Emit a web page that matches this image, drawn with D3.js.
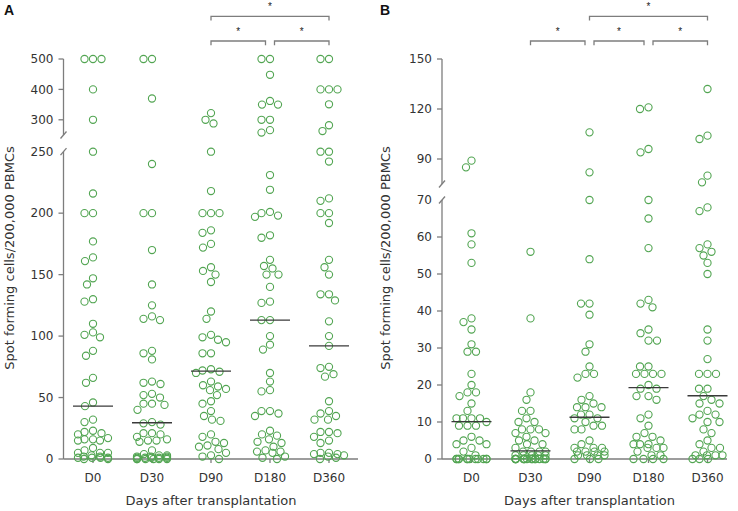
<!DOCTYPE html>
<html>
<head>
<meta charset="utf-8">
<script src="https://cdn.jsdelivr.net/npm/d3@7"></script>
<style>
  body { margin: 0; background: #fff; }
  svg { display: block; }
  text { font-family: "DejaVu Sans", sans-serif; }
</style>
</head>
<body>
<div id="chart"></div>
<script>
// Spot forming cells per 200,000 PBMCs
const days = ['D0', 'D30', 'D90', 'D180', 'D360'];

// panel A
const aD0 = [500, 500, 500, 400, 300, 250, 216, 200, 200, 177, 164, 161, 147, 142, 130, 128, 110, 103, 101, 99,
  88, 84, 66, 62, 46, 43, 32, 30, 23, 22, 21, 20, 17, 16, 16, 15, 15, 9, 7, 5, 5, 5, 3, 2, 2, 1, 1, 1, 1, 0, 0];
const aD30 = [500, 500, 370, 240, 200, 200, 170, 142, 125, 116, 114, 113, 88, 86, 81, 63, 62, 61, 53, 52,
  50, 45, 45, 44, 40, 30, 29, 28, 21, 21, 20, 18, 16, 15, 15, 14, 7, 4, 3, 3, 2, 2, 2, 1, 1, 1, 1, 1, 0, 0, 0, 0, 0, 0];
const aD90 = [322, 300, 288, 250, 218, 200, 200, 200, 186, 184, 175, 172, 156, 153, 150, 144, 120, 114, 101, 99,
  97, 95, 86, 86, 73, 72, 71, 70, 63, 60, 59, 57, 56, 52, 47, 45, 39, 35, 32, 31, 20, 18, 14, 13, 11, 10, 8, 5, 3, 2, 0];
const aD180 = [500, 500, 448, 362, 350, 350, 300, 300, 266, 258, 231, 219, 201, 200, 198, 197, 182, 180, 162, 157,
  155, 150, 150, 140, 128, 127, 113, 113, 100, 93, 89, 70, 63, 56, 55, 39, 39, 37, 35, 23, 20, 19, 16, 14, 13, 10, 7, 6, 6, 5, 2, 1, 0];
const aD360 = [500, 500, 400, 400, 400, 351, 282, 263, 250, 250, 242, 212, 210, 200, 200, 192, 162, 156, 150, 134,
  134, 129, 112, 100, 92, 75, 74, 69, 67, 47, 39, 37, 35, 32, 32, 22, 22, 21, 18, 15, 13, 5, 5, 4, 4, 3, 2, 1, 0];
const aMedians = [43, 29.5, 71.5, 113, 92];

// panel B
const bD0 = [89, 85, 61, 58, 53, 38, 37, 35, 31, 29, 29, 23, 20, 18, 18, 17, 15, 13, 11, 11,
  11, 11, 10, 9, 9, 9, 6, 5, 5, 4, 4, 3, 2, 1, 0, 0, 0, 0, 0, 0, 0, 0, 0, 0, 0, 0];
const bD30 = [56, 38, 18, 16, 13, 13, 11, 10, 10, 8, 8, 8, 7, 7, 6, 5, 5, 4, 4, 3,
  2, 2, 2, 2, 1, 1, 1, 1, 1, 0, 0, 0, 0, 0, 0, 0, 0, 0, 0, 0, 0, 0, 0, 0, 0];
const bD90 = [106, 82, 70, 54, 42, 42, 39, 31, 29, 25, 23, 23, 22, 17, 16, 15, 14, 14, 14, 12,
  12, 11, 11, 10, 9, 9, 8, 8, 5, 4, 3, 3, 3, 2, 2, 2, 2, 1, 1, 1, 1, 0, 0, 0];
const bD180 = [121, 120, 96, 94, 70, 65, 57, 43, 42, 41, 35, 34, 32, 32, 25, 25, 23, 23, 23, 23,
  20, 19, 19, 17, 17, 16, 12, 11, 9, 7, 6, 6, 5, 4, 4, 4, 3, 3, 3, 2, 1, 1, 0, 0, 0, 0];
const bD360 = [132, 104, 102, 80, 76, 68, 67, 58, 57, 56, 55, 53, 50, 35, 32, 27, 23, 23, 23, 19,
  19, 17, 16, 15, 15, 13, 12, 12, 11, 10, 10, 8, 7, 5, 4, 3, 3, 2, 1, 1, 1, 1, 0, 0, 0];
const bMedians = [10.1, 2.2, 11.3, 19.3, 17.1];

// broken y axes: ticks below and above the break
const aLowerTicks = [0, 50, 100, 150, 200, 250];
const aUpperTicks = [300, 400, 500];
const bLowerTicks = [0, 10, 20, 30, 40, 50, 60, 70];
const bUpperTicks = [90, 120, 150];

// significance brackets: [from, to, level]
const aBrackets = [['D90', 'D360', 0], ['D90', 'D180', 1], ['D180', 'D360', 1]];
const bBrackets = [['D90', 'D360', 0], ['D30', 'D90', 1], ['D90', 'D180', 1], ['D180', 'D360', 1]];

const width = 738, height = 511;
const plotTop = 59, plotBottom = 459;
const green = '#52a552', axisGray = '#7d7d7d', inkGray = '#333';

const svg = d3.select('#chart').append('svg')
  .attr('width', width)
  .attr('height', height);

const panels = [
  {
    letter: 'A', lx: 4, axisX: 63.5, xEnd: 358, titleX: 14,
    series: [aD0, aD30, aD90, aD180, aD360], medians: aMedians,
    lower: [0, 250], upper: [250, 500], lowerTop: 151.7, upperBottom: 135,
    lowerTicks: aLowerTicks, upperTicks: aUpperTicks, brackets: aBrackets
  },
  {
    letter: 'B', lx: 380, axisX: 442, xEnd: 727, titleX: 390,
    series: [bD0, bD30, bD90, bD180, bD360], medians: bMedians,
    lower: [0, 70], upper: [75, 150], lowerTop: 200, upperBottom: 184,
    lowerTicks: bLowerTicks, upperTicks: bUpperTicks, brackets: bBrackets
  }
];

// simple beeswarm: each point takes the horizontal offset with the least overlap
function swarm(vals, yf, cx, maxOff) {
  const minD = 8.4;
  const pts = vals.map(v => ({ v, y: yf(v) })).sort((a, b) => a.y - b.y);
  const placed = [];
  pts.forEach(p => {
    let best = 0, bestScore = Infinity;
    for (let k = 0; k <= maxOff * 2; k++) {
      for (const s of [-1, 1]) {
        const c = s * k / 2;
        let score = Math.abs(c) * 0.001;
        placed.forEach(q => {
          const d = Math.hypot(q.x - c, q.y - p.y);
          if (d < minD) score += minD - d;
        });
        if (score < bestScore) { bestScore = score; best = c; }
      }
    }
    p.x = best;
    placed.push(p);
  });
  return pts.map(p => ({ v: p.v, x: cx + p.x, y: p.y }));
}

panels.forEach(P => {
  const g = svg.append('g');

  const x = d3.scalePoint().domain(days).range([P.axisX, P.axisX + 295]).padding(0.5);
  const yLow = d3.scaleLinear().domain(P.lower).range([plotBottom, P.lowerTop]);
  const yUp = d3.scaleLinear().domain(P.upper).range([P.upperBottom, plotTop]);
  const yf = v => v > P.lower[1] ? yUp(v) : yLow(v);

  // panel letter
  g.append('text')
    .attr('x', P.lx).attr('y', 15)
    .style('font-family', '"Liberation Sans", Arial, sans-serif')
    .style('font-weight', 700).style('font-size', '14px')
    .attr('fill', '#111')
    .text(P.letter);

  // y axis: two segments with break slashes
  const ax = g.append('g').attr('stroke', axisGray).attr('stroke-width', 1.3).attr('fill', 'none');
  ax.append('line').attr('x1', P.axisX).attr('x2', P.axisX).attr('y1', yUp(P.upper[1])).attr('y2', yUp(P.upper[0]));
  ax.append('line').attr('x1', P.axisX).attr('x2', P.axisX).attr('y1', yLow(P.lower[1])).attr('y2', plotBottom);
  [yUp(P.upper[0]), yLow(P.lower[1])].forEach(yy => {
    ax.append('line')
      .attr('x1', P.axisX - 3).attr('y1', yy + 3.5)
      .attr('x2', P.axisX + 3).attr('y2', yy - 3.5);
  });
  // x axis
  ax.append('line').attr('x1', P.axisX).attr('x2', P.xEnd).attr('y1', plotBottom).attr('y2', plotBottom);
  days.forEach(d => {
    ax.append('line').attr('x1', x(d)).attr('x2', x(d)).attr('y1', plotBottom).attr('y2', plotBottom + 4);
  });

  const ticks = P.lowerTicks.map(v => ({ v, y: yLow(v), brk: v === P.lower[1] }))
    .concat(P.upperTicks.map(v => ({ v, y: yUp(v), brk: false })));
  ticks.forEach(t => {
    if (!t.brk) {
      ax.append('line').attr('x1', P.axisX - 5).attr('x2', P.axisX).attr('y1', t.y).attr('y2', t.y);
    }
    g.append('text')
      .attr('x', P.axisX - 10).attr('y', t.y).attr('dy', '0.36em')
      .attr('text-anchor', 'end')
      .style('font-size', '12px')
      .attr('fill', inkGray)
      .text(t.v);
  });

  days.forEach(d => {
    g.append('text')
      .attr('x', x(d)).attr('y', 482)
      .attr('text-anchor', 'middle')
      .style('font-size', '12px')
      .attr('fill', inkGray)
      .text(d);
  });

  g.append('text')
    .attr('x', x('D90')).attr('y', 505)
    .attr('text-anchor', 'middle')
    .style('font-size', '13px')
    .attr('fill', inkGray)
    .text('Days after transplantation');

  g.append('text')
    .attr('transform', `translate(${P.titleX},258) rotate(-90)`)
    .attr('text-anchor', 'middle')
    .style('font-size', '13px')
    .attr('fill', inkGray)
    .text('Spot forming cells/200,000 PBMCs');

  // points
  P.series.forEach((vals, i) => {
    const pts = swarm(vals, yf, x(days[i]), 15);
    g.append('g')
      .selectAll('circle')
      .data(pts)
      .enter().append('circle')
      .attr('cx', d => d.x)
      .attr('cy', d => d.y)
      .attr('r', 3.6)
      .attr('fill', 'none')
      .attr('stroke', green)
      .attr('stroke-width', 1.1);
  });

  // medians
  g.append('g')
    .selectAll('line')
    .data(P.medians)
    .enter().append('line')
    .attr('x1', (d, i) => x(days[i]) - 20)
    .attr('x2', (d, i) => x(days[i]) + 20)
    .attr('y1', d => yLow(d))
    .attr('y2', d => yLow(d))
    .attr('stroke', '#3a3a3a')
    .attr('stroke-width', 1.4);

  // significance brackets; ends that meet another bracket on the same level are pulled in
  const levelY = [16.3, 41];
  P.brackets.forEach(([a, b, lvl]) => {
    const meets = (cat, side) => P.brackets.some(o => o[2] === lvl &&
      !(o[0] === a && o[1] === b) && (side === 'start' ? o[1] === cat : o[0] === cat));
    const x1 = x(a) + (meets(a, 'start') ? 4.5 : 0);
    const x2 = x(b) - (meets(b, 'end') ? 4.5 : 0);
    const yy = levelY[lvl];
    g.append('path')
      .attr('d', `M${x1},${yy + 4.3}V${yy}H${x2}V${yy + 4.3}`)
      .attr('fill', 'none')
      .attr('stroke', axisGray)
      .attr('stroke-width', 1.3);
    g.append('text')
      .attr('x', (x1 + x2) / 2).attr('y', yy - 6.5)
      .attr('text-anchor', 'middle')
      .style('font-family', '"Liberation Sans", Arial, sans-serif')
      .style('font-size', '10px')
      .attr('fill', '#222')
      .text('*');
  });
});
</script>
</body>
</html>
